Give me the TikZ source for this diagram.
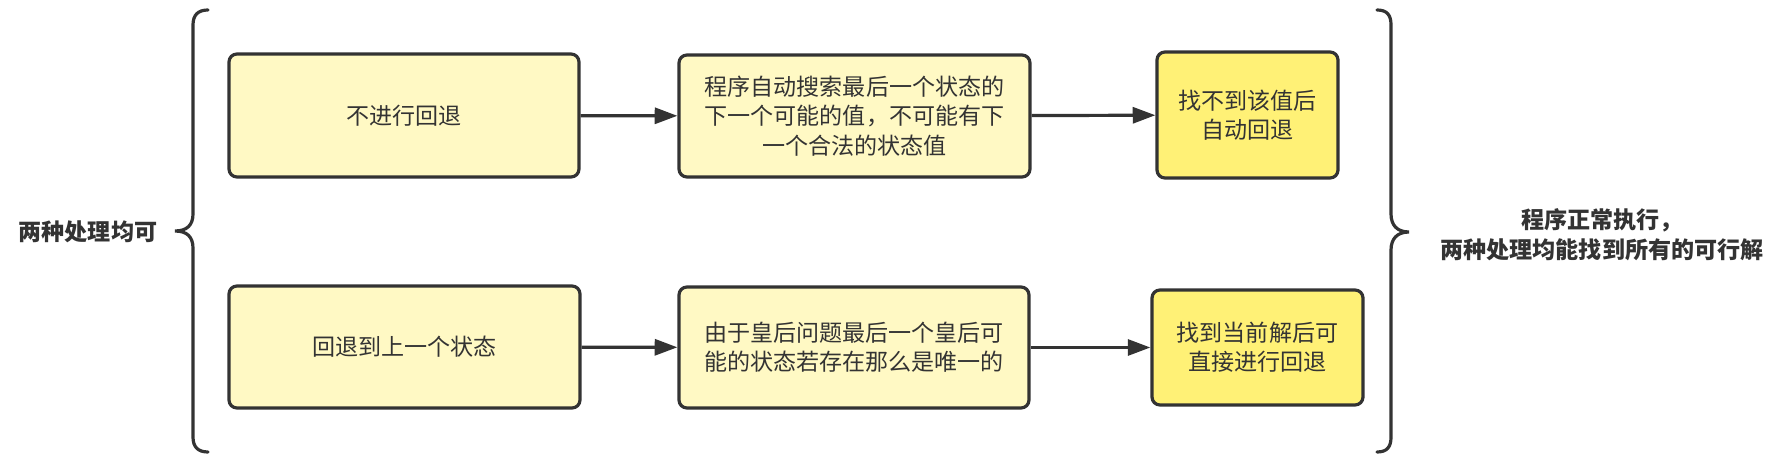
\documentclass[tikz,border=0pt]{standalone}
\usepackage{fontspec}
\setmainfont{Noto Sans CJK SC}
\usetikzlibrary{arrows.meta}
\definecolor{lightY}{HTML}{FFF9C4}
\definecolor{darkY}{HTML}{FFF176}
\definecolor{ink}{HTML}{333333}
\begin{document}
\begin{tikzpicture}[x=0.75pt,y=-0.75pt,
  box/.style={draw=ink, line width=2.4pt, rounded corners=6pt, fill=lightY,
    text=ink, align=center, inner sep=0pt, font=\fontsize{17.3pt}{22pt}\selectfont},
  hibox/.style={box, fill=darkY},
  arr/.style={draw=ink, line width=2.4pt, -{Triangle[length=17pt,width=12pt]}},
  brace/.style={draw=ink, line width=2.4pt, line cap=round},
  lbl/.style={text=ink, align=center, inner sep=0pt, font=\fontsize{17.3pt}{22.5pt}\selectfont\bfseries}]
\useasboundingbox (0,0) rectangle (1787,459);
\fill[white] (0,0) rectangle (1787,459);

\node[box, minimum width=350*0.75pt, minimum height=123*0.75pt] (A1) at (404,115.5) {不进行回退};
\node[box, minimum width=351*0.75pt, minimum height=122*0.75pt] (B1) at (854.5,116) {程序自动搜索最后一个状态的\\下一个可能的值，不可能有下\\一个合法的状态值};
\node[hibox, minimum width=181*0.75pt, minimum height=126*0.75pt] (C1) at (1247.5,115) {找不到该值后\\自动回退};

\node[box, minimum width=351*0.75pt, minimum height=122*0.75pt] (A2) at (404.5,347) {回退到上一个状态};
\node[box, minimum width=350*0.75pt, minimum height=121*0.75pt] (B2) at (854,347.5) {由于皇后问题最后一个皇后可\\能的状态若存在那么是唯一的};
\node[hibox, minimum width=211*0.75pt, minimum height=115*0.75pt] (C2) at (1257.5,347.5) {找到当前解后可\\直接进行回退};

\draw[arr] (A1) -- (B1);
\draw[arr] (B1) -- (C1);
\draw[arr] (A2) -- (B2);
\draw[arr] (B2) -- (C2);

\draw[brace] (208,10) .. controls (198,10) and (193,15) .. (193,25) -- (193,214)
  .. controls (193,225) and (187,231) .. (175,231)
  .. controls (187,231) and (193,237) .. (193,248) -- (193,437)
  .. controls (193,447) and (198,452) .. (208,452);
\draw[brace] (1377,10) .. controls (1387,10) and (1391,15) .. (1391,25) -- (1391,214)
  .. controls (1391,225) and (1397,232) .. (1409,232)
  .. controls (1397,232) and (1391,239) .. (1391,250) -- (1391,437)
  .. controls (1391,447) and (1387,452) .. (1377,452);

\node[lbl] (L) at (88,232) {两种处理均可};
\node[lbl] (R) at (1602,235) {程序正常执行，\\两种处理均能找到所有的可行解};
\end{tikzpicture}
\end{document}
